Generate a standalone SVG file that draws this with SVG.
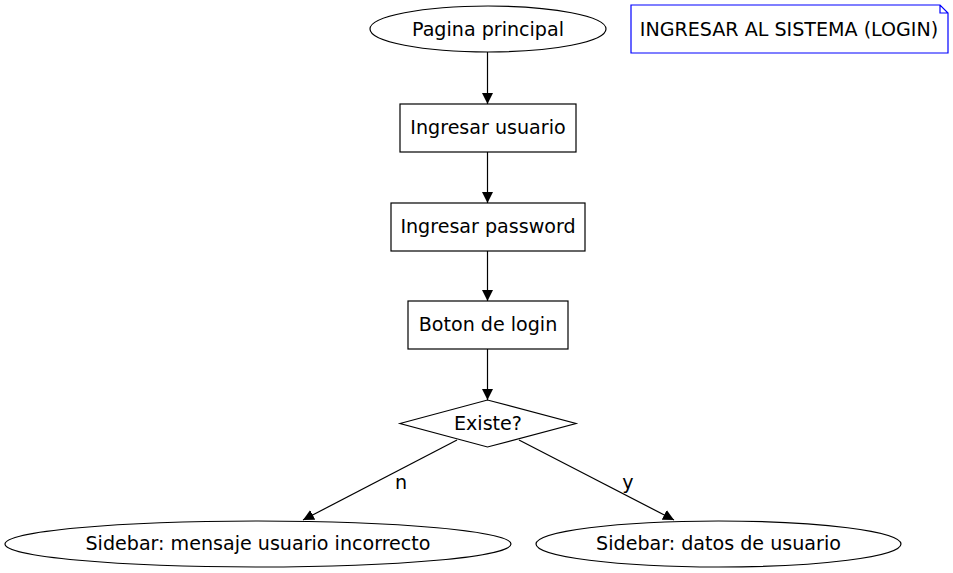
<svg xmlns="http://www.w3.org/2000/svg" width="953" height="573" viewBox="0 0 953 573">
<style>
.s{fill:none;stroke:#000;stroke-width:1.2}
.t{font-family:"DejaVu Sans",sans-serif;font-size:19.1px;fill:#000;text-anchor:middle}
.e{fill:none;stroke:#000;stroke-width:1.2}
</style>
<defs>
<marker id="arr" markerWidth="11" markerHeight="11" refX="11" refY="5.5" orient="auto" markerUnits="userSpaceOnUse">
<path d="M0,0 L11,5.5 L0,11 Z" fill="#000"/>
</marker>
</defs>
<rect width="953" height="573" fill="#fff"/>
<g id="connectors">
<line class="e" x1="487.5" y1="52" x2="487.5" y2="104" marker-end="url(#arr)"/>
<line class="e" x1="487.5" y1="152" x2="487.5" y2="203" marker-end="url(#arr)"/>
<line class="e" x1="487.5" y1="251" x2="487.5" y2="301" marker-end="url(#arr)"/>
<line class="e" x1="487.5" y1="349" x2="487.5" y2="400" marker-end="url(#arr)"/>
<line class="e" x1="457" y1="440" x2="303" y2="520" marker-end="url(#arr)"/>
<line class="e" x1="519" y1="440" x2="674" y2="520" marker-end="url(#arr)"/>
<text class="t" x="401" y="489">n</text>
<text class="t" x="628" y="489">y</text>
</g>
<g id="pagina">
<ellipse class="s" cx="488" cy="29" rx="118" ry="23"/>
<text class="t" x="488" y="35.5">Pagina principal</text>
</g>
<g id="note">
<path d="M631,5 H940 L948,13 V53 H631 Z M940,5 V13 H948" fill="none" stroke="#0000ff" stroke-width="1.2"/>
<text class="t" x="789" y="35.5">INGRESAR AL SISTEMA (LOGIN)</text>
</g>
<g id="usuario">
<rect class="s" x="400" y="104" width="176" height="48"/>
<text class="t" x="488" y="134">Ingresar usuario</text>
</g>
<g id="password">
<rect class="s" x="391" y="203" width="194" height="48"/>
<text class="t" x="488" y="233">Ingresar password</text>
</g>
<g id="boton">
<rect class="s" x="408" y="301" width="160" height="48"/>
<text class="t" x="488" y="331">Boton de login</text>
</g>
<g id="existe">
<polygon class="s" points="400,423.5 487.5,400 576,423.5 487.5,447"/>
<text class="t" x="488" y="429.5">Existe?</text>
</g>
<g id="incorrecto">
<ellipse class="s" cx="258" cy="544" rx="253" ry="23"/>
<text class="t" x="258" y="550">Sidebar: mensaje usuario incorrecto</text>
</g>
<g id="datos">
<ellipse class="s" cx="718.5" cy="544" rx="182.5" ry="23"/>
<text class="t" x="718.5" y="550">Sidebar: datos de usuario</text>
</g>
</svg>
